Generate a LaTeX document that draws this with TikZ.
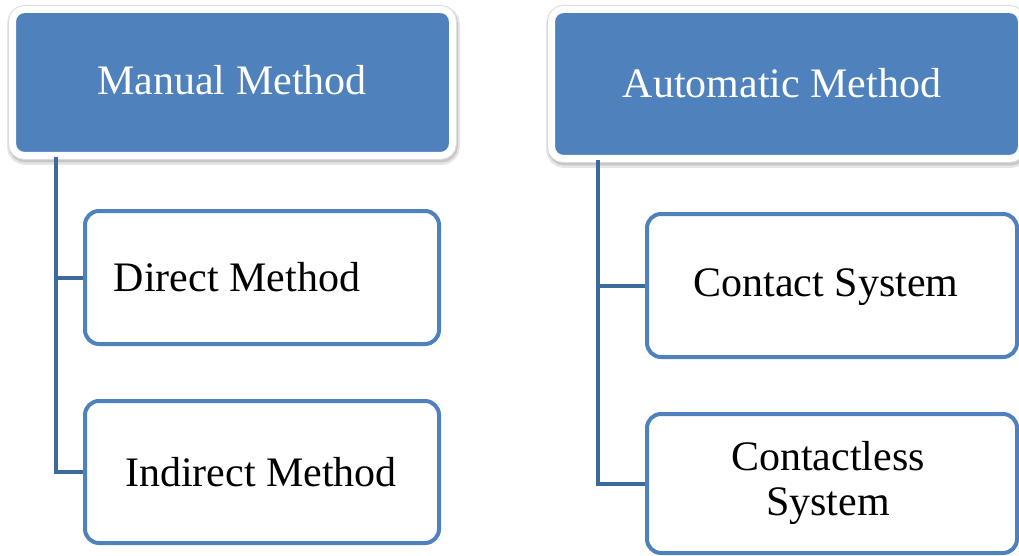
\documentclass[tikz,border=0pt]{standalone}
\usepackage{fontspec}
\setmainfont{Liberation Serif}
\definecolor{hdrblue}{HTML}{4F81BD}
\definecolor{connblue}{HTML}{3D6A9C}
\tikzset{
  header/.style={rectangle, rounded corners=12pt, fill=hdrblue, draw=white, line width=7pt,
    preaction={draw=black!10, line width=13pt, transform canvas={xshift=1pt, yshift=-3pt}},
    preaction={draw=black!22, line width=9pt, transform canvas={xshift=1pt, yshift=-2.5pt}},
    preaction={draw=black!14, line width=9pt}},
  childbox/.style={rectangle, rounded corners=14pt, draw=hdrblue, fill=white, line width=4pt},
  conn/.style={draw=connblue, line width=4pt},
  lbl/.style={font=\fontsize{42}{45}\selectfont, inner sep=0pt, align=center},
}
\begin{document}
\begin{tikzpicture}[x=1pt,y=-1pt]
\clip (0,0) rectangle (1019,556);
\fill[white] (0,0) rectangle (1019,556);
% headers
\node[header, minimum width=440pt, minimum height=146pt] (hl) at (232.5,82.5) {};
\node[header, minimum width=470pt, minimum height=149pt] (hr) at (786.5,84) {};
\node[lbl, text=white] (tl) at (232,80) {Manual Method};
\node[lbl, text=white] (tr) at (782,83) {Automatic Method};
% child boxes
\node[childbox, minimum width=354pt, minimum height=133pt] (dm) at (262,277.5) {};
\node[childbox, minimum width=354pt, minimum height=142pt] (im) at (262,472) {};
\node[childbox, minimum width=370pt, minimum height=143pt] (cs) at (832,285.5) {};
\node[childbox, minimum width=370pt, minimum height=139pt] (cl) at (832,483.5) {};
\node[lbl] (tdm) at (237,277) {Direct Method};
\node[lbl] (tim) at (261,472) {Indirect Method};
\node[lbl] (tcs) at (826,287) {Contact System};
\node[lbl] (tcl) at (828,483) {Contactless\\System};
% connectors
\coordinate (lt) at (56,157);
\coordinate (rt) at (598,160);
\draw[conn] (lt) |- (dm.west);
\draw[conn] (lt) |- (im.west);
\draw[conn] (rt) |- (cs.west);
\draw[conn] (rt) |- (cl.west);
\end{tikzpicture}
\end{document}
